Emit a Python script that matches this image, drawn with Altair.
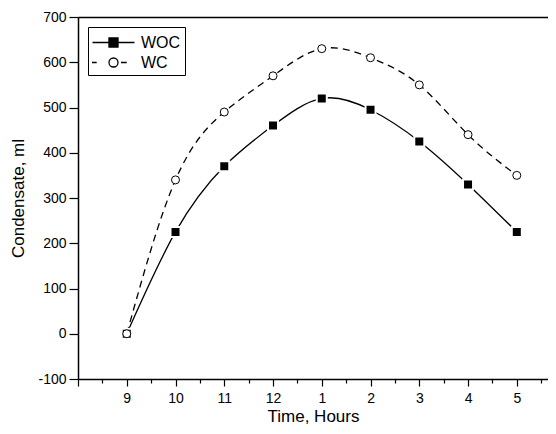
import json
import altair as alt
import pandas as pd

hours = ["9", "10", "11", "12", "1", "2", "3", "4", "5"]
woc = [0, 225, 370, 460, 520, 495, 425, 330, 225]
wc = [0, 340, 490, 570, 630, 610, 550, 440, 350]
series_names = ["WOC", "WC"]

FONT = "Liberation Sans"

rows = []
for i, h in enumerate(hours):
    rows.append({"idx": i, "hour": h, "series": "WOC", "value": woc[i]})
for i, h in enumerate(hours):
    rows.append({"idx": i, "hour": h, "series": "WC", "value": wc[i]})
df = pd.DataFrame(rows)
df_woc = df[df.series == "WOC"]
df_wc = df[df.series == "WC"]

x_ticks = [v / 2 for v in range(-2, 18)]
y_ticks = list(range(-100, 701, 50))
hour_arr = json.dumps(hours)

x_scale = alt.Scale(domain=[-1, 8.64], nice=False, zero=False)
y_scale = alt.Scale(domain=[-100, 700], nice=False, zero=False)

x_axis = alt.Axis(
    values=x_ticks,
    labelExpr=f"(datum.value >= 0 && datum.value % 1 === 0) ? {hour_arr}[datum.value] : ''",
    tickSize={"condition": {"test": "datum.value % 1 === 0", "value": 7}, "value": 4},
    title="Time, Hours",
    grid=False,
    labelPadding=5,
    titlePadding=3,
)
y_axis = alt.Axis(
    values=y_ticks,
    labelExpr="datum.value % 100 === 0 ? ('' + datum.value) : ''",
    tickSize={"condition": {"test": "datum.value % 100 === 0", "value": 9}, "value": 5},
    title="Condensate, ml",
    grid=False,
    labelPadding=3,
    titlePadding=10,
)

X_main = alt.X("idx:Q", scale=x_scale, axis=x_axis)
X = alt.X("idx:Q", scale=x_scale, axis=None)
Y_main = alt.Y("value:Q", scale=y_scale, axis=y_axis)
Y = alt.Y("value:Q", scale=y_scale)

line_woc = alt.Chart(df_woc).mark_line(
    interpolate="natural", color="black", strokeWidth=1.3
).encode(x=X, y=Y)

line_wc = alt.Chart(df_wc).mark_line(
    interpolate="natural", color="black", strokeWidth=1.3, strokeDash=[7, 5]
).encode(x=X, y=Y)

pts_woc = alt.Chart(df_woc).mark_point(
    shape="square", filled=True, fill="black", stroke="white", strokeWidth=2,
    size=100, opacity=1
).encode(x=X, y=Y)

pts_wc = alt.Chart(df_wc).mark_point(
    shape="circle", filled=False, fill="white", stroke="black", strokeWidth=1,
    size=64, opacity=1, fillOpacity=1
).encode(x=X, y=Y)

path_woc = "M-2,0H-0.46M-0.43,-0.43H0.43V0.43H-0.43ZM0.46,0H2"
path_wc = ("M-2.05,0H-1.6M-0.43,0A0.43,0.43 0 1,1 0.43,0A0.43,0.43 0 1,1 -0.43,0Z"
           "M0.71,0H1.26")

legend_layer = alt.Chart(df).mark_point(
    opacity=0, strokeWidth=1.3
).encode(
    x=X_main,
    y=Y_main,
    shape=alt.Shape(
        "series:N",
        scale=alt.Scale(domain=series_names, range=[path_woc, path_wc]),
        legend=alt.Legend(
            title=None,
            orient="top-left",
            offset=10,
            symbolSize=441,
            symbolOpacity=1,
            symbolStrokeColor="black",
            symbolStrokeWidth=1.3,
            symbolOffset=10,
            labelOffset=16,
            labelFont=FONT,
            labelFontSize=16,
            labelColor="black",
            padding=4,
            rowPadding=0,
            strokeColor="black",
            fillColor="white",
        ),
    ),
    fill=alt.Fill(
        "series:N",
        scale=alt.Scale(domain=series_names, range=["black", "white"]),
        legend=alt.Legend(title=None, orient="top-left"),
    ),
    stroke=alt.Stroke(
        "series:N",
        scale=alt.Scale(domain=series_names, range=["black", "black"]),
        legend=alt.Legend(title=None, orient="top-left"),
    ),
)

top_frame = alt.Chart(df_woc).mark_point(opacity=0).encode(
    x=alt.X("idx:Q", scale=x_scale,
            axis=alt.Axis(orient="top", labels=False, ticks=False, title=None,
                          grid=False, domainWidth=1.5, domainColor="black")),
    y=Y,
)

chart = alt.layer(
    legend_layer, line_wc, line_woc, pts_woc, pts_wc, top_frame
).resolve_axis(x="independent").properties(
    width=470,
    height=362,
    background="white",
    autosize=alt.AutoSizeParams(type="none"),
    padding={"left": 70, "top": 9, "right": 0, "bottom": 52},
).configure_view(stroke=None).configure_axis(
    labelFont=FONT,
    labelFontSize=14,
    labelColor="black",
    titleFont=FONT,
    titleFontSize=17,
    titleFontWeight="normal",
    titleColor="black",
    domainColor="black",
    domainWidth=1.5,
    tickColor="black",
    tickWidth=1.2,
)

chart.save("out.html", embed_options={"renderer": "svg", "actions": False})
